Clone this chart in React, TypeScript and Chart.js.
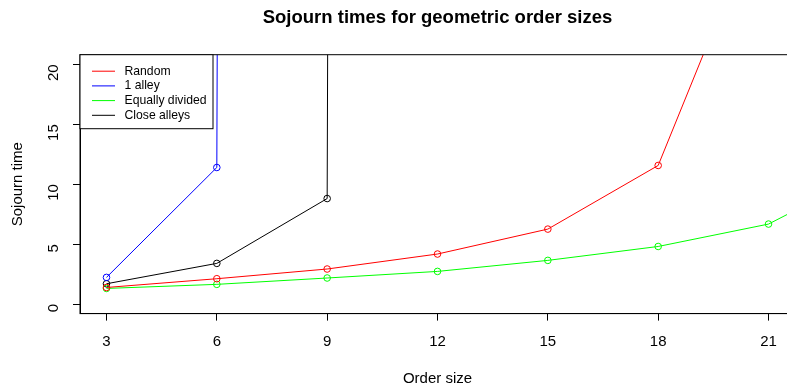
import React, { useEffect, useRef } from "react";
import { Chart, registerables } from "chart.js";

Chart.register(...registerables);

// Order sizes along the x axis and the mean sojourn time of each policy.
const ORDER_SIZES = [3, 6, 9, 12, 15, 18, 21, 24];
const RANDOM = [1.38, 2.11, 2.92, 4.17, 6.25, 11.56, 34.2];
const ONE_ALLEY = [2.22, 11.39, 3000];
const EQUALLY_DIVIDED = [1.3, 1.64, 2.17, 2.72, 3.64, 4.8, 6.67, 11.4];
const CLOSE_ALLEYS = [1.69, 3.39, 8.8, 3000];

const SERIES_NAMES = ["Random", "1 alley", "Equally divided", "Close alleys"];
const SERIES_COLORS = ["#ff0000", "#0000ff", "#00ff00", "#000000"];

const X_TICKS = [3, 6, 9, 12, 15, 18, 21];
const Y_TICKS = [0, 5, 10, 15, 20];
const X_LIMITS = [3, 21];
const Y_LIMITS = [0, 20];

const TITLE = "Sojourn times for geometric order sizes";
const X_TITLE = "Order size";
const Y_TITLE = "Sojourn time";

const FONT = "'Liberation Sans', Arial, Helvetica, sans-serif";

// Base-graphics style 4% padding around the axis limits.
const pad = (lim: number[]) => {
  const d = (lim[1] - lim[0]) * 0.04;
  return [lim[0] - d, lim[1] + d];
};

const toPoints = (values: number[]) =>
  values.map((y, i) => ({ x: ORDER_SIZES[i], y }));

const framePlugin = {
  id: "frame",
  afterDatasetsDraw(chart: any) {
    const { ctx, chartArea } = chart;
    const { left, top, right, bottom } = chartArea;
    ctx.save();

    // box around the plotting region
    ctx.strokeStyle = "#000";
    ctx.lineWidth = 1;
    ctx.strokeRect(left, top, right - left, bottom - top);

    // legend in the top-left corner
    const boxW = 133;
    const boxH = 74;
    ctx.fillStyle = "#fff";
    ctx.fillRect(left, top, boxW, boxH);
    ctx.strokeRect(left, top, boxW, boxH);
    ctx.font = `12.2px ${FONT}`;
    ctx.textBaseline = "middle";
    ctx.textAlign = "left";
    SERIES_NAMES.forEach((name, i) => {
      const y = top + 16.5 + i * 14.7;
      ctx.strokeStyle = SERIES_COLORS[i];
      ctx.beginPath();
      ctx.moveTo(left + 12, y);
      ctx.lineTo(left + 35, y);
      ctx.stroke();
      ctx.fillStyle = "#000";
      ctx.fillText(name, left + 44.5, y);
    });
    ctx.restore();
  },
  afterDraw(chart: any) {
    const { ctx, chartArea } = chart;
    const { left, top, right, bottom } = chartArea;
    const cx = (left + right) / 2;
    const cy = (top + bottom) / 2;
    ctx.save();
    ctx.fillStyle = "#000";
    ctx.textAlign = "center";
    ctx.textBaseline = "middle";
    ctx.font = `bold 18.5px ${FONT}`;
    ctx.fillText(TITLE, cx, 18);
    ctx.font = `15px ${FONT}`;
    ctx.fillText(X_TITLE, cx, 379);
    ctx.translate(17.5, cy);
    ctx.rotate(-Math.PI / 2);
    ctx.fillText(Y_TITLE, 0, 0);
    ctx.restore();
  },
};

export default function App() {
  const canvasRef = useRef<HTMLCanvasElement | null>(null);

  useEffect(() => {
    const canvas = canvasRef.current;
    if (!canvas) return;
    const xr = pad(X_LIMITS);
    const yr = pad(Y_LIMITS);
    const seriesValues = [RANDOM, ONE_ALLEY, EQUALLY_DIVIDED, CLOSE_ALLEYS];

    const chart = new Chart(canvas, {
      type: "line",
      data: {
        datasets: seriesValues.map((vals, i) => ({
          label: SERIES_NAMES[i],
          data: toPoints(vals),
          borderColor: SERIES_COLORS[i],
          borderWidth: 1,
          pointRadius: 3.3,
          pointBorderWidth: 1,
          pointBorderColor: SERIES_COLORS[i],
          pointBackgroundColor: "rgba(0,0,0,0)",
          tension: 0,
          clip: 0,
        })),
      },
      options: {
        responsive: false,
        animation: false,
        devicePixelRatio: 1,
        layout: { padding: { top: 54.7, right: 4, left: 0, bottom: 0 } },
        plugins: {
          legend: { display: false },
          tooltip: { enabled: false },
          title: { display: false },
        },
        scales: {
          x: {
            type: "linear",
            min: xr[0],
            max: xr[1],
            afterBuildTicks: (scale: any) => {
              scale.ticks = X_TICKS.map((value) => ({ value }));
            },
            afterFit: (scale: any) => {
              scale.height = 76.4;
            },
            grid: {
              display: true,
              drawOnChartArea: false,
              drawTicks: true,
              tickLength: 7,
              color: "#000",
            },
            border: { display: true, color: "#000" },
            ticks: {
              font: { family: FONT, size: 15 },
              color: "#000",
              padding: 12,
              maxRotation: 0,
              autoSkip: false,
            },
          },
          y: {
            type: "linear",
            min: yr[0],
            max: yr[1],
            afterBuildTicks: (scale: any) => {
              scale.ticks = Y_TICKS.map((value) => ({ value }));
            },
            afterFit: (scale: any) => {
              scale.width = 80;
            },
            grid: {
              display: true,
              drawOnChartArea: false,
              drawTicks: true,
              tickLength: 7,
              color: "#000",
            },
            border: { display: true, color: "#000" },
            ticks: {
              font: { family: FONT, size: 15 },
              color: "#000",
              padding: 19,
              minRotation: 90,
              maxRotation: 90,
              autoSkip: false,
            },
          },
        },
      },
      plugins: [framePlugin],
    });
    return () => chart.destroy();
  }, []);

  return (
    <div
      style={{
        position: "fixed",
        left: 0,
        top: 0,
        width: 787,
        height: 390,
        overflow: "hidden",
        background: "#fff",
      }}
    >
      <canvas ref={canvasRef} width={800} height={390} />
    </div>
  );
}
